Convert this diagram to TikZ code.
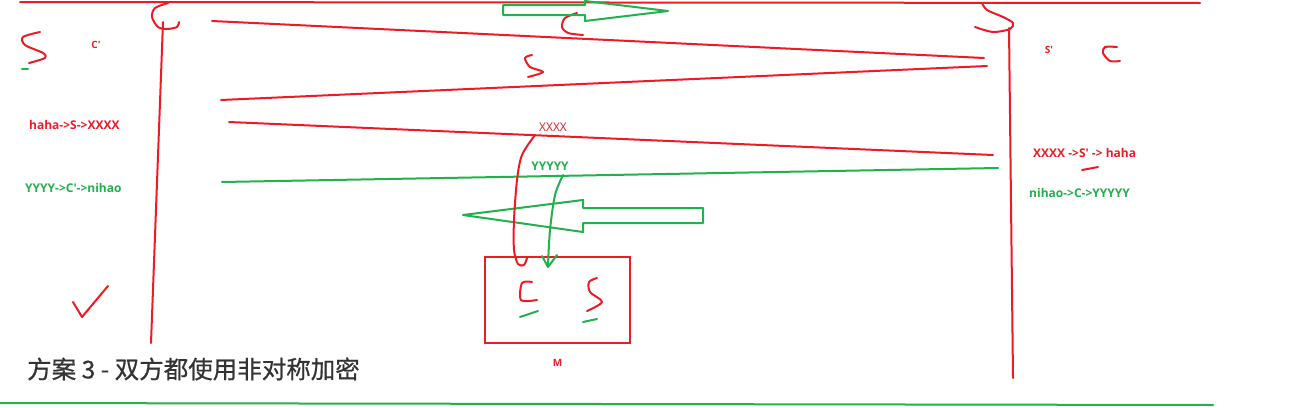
\documentclass[tikz,border=0pt]{standalone}
\usepackage{fontspec}
\setmainfont{Noto Sans CJK SC}
\newfontfamily\lblfont{Open Sans}
\usetikzlibrary{arrows,positioning}

\definecolor{pen}{RGB}{237,28,36}
\definecolor{grn}{RGB}{34,177,76}
\definecolor{ink}{RGB}{51,51,51}

\begin{document}
\begin{tikzpicture}[x=1pt,y=-1pt]
          \tikzstyle{redpen}=[pen,line width=2pt,line cap=round,line join=round]
          \tikzstyle{greenpen}=[grn,line width=2pt,line cap=round,line join=round]
          \tikzstyle{lbl}=[font=\lblfont\bfseries\fontsize{12}{14}\selectfont,inner sep=0pt]
          \tikzstyle{thinlbl}=[font=\lblfont\fontsize{12}{14}\selectfont,inner sep=0pt]
          \useasboundingbox[fill=white] (0,0) rectangle (1305,407);

          \begin{scope}
            % wires and parties
            \draw[redpen] (20,2) -- (1200,3);
            \draw[redpen] (163,22) -- (151,343);
            \draw[redpen] (1009,28) -- (1013,378);
            \draw[redpen] plot[smooth] coordinates {(168,3) (155,8) (152,17) (158,27) (167,29) (177,27) (179,22)};
            \draw[redpen] plot[smooth] coordinates {(982,3) (987,10) (1003,17) (1013,23) (1010,29) (993,32) (975,27)};
            \draw[redpen] plot[smooth] coordinates {(40,32) (23,37) (25,45) (43,53) (45,58) (29,63)};
            \draw[greenpen] (22,69) -- (28,69);
            \draw[redpen] plot[smooth] coordinates {(1117,47) (1105,47) (1103,53) (1110,61) (1120,61)};
            \draw[redpen] plot[smooth] coordinates {(577,13) (565,18) (562,27) (568,33) (583,35)};
            \draw[redpen] plot[smooth] coordinates {(532,55) (525,58) (530,67) (543,72) (528,77)};

            % messages
            \draw[redpen] (212,21) -- (984,58);
            \draw[redpen] (221,100) -- (987,66);
            \draw[redpen] (229,122) -- (993,155);
            \draw[greenpen] (222,182) -- (998,168);

            \draw[greenpen] (503,5) -- (585,5) -- (585,1) -- (668,11) -- (585,21) -- (585,15) -- (503,15) -- cycle;
            \draw[greenpen] (463,215) -- (583,200) -- (583,208) -- (703,208) -- (703,223) -- (583,223) -- (583,232) -- cycle;

            \node[lbl,pen,font=\lblfont\bfseries\fontsize{10}{12}\selectfont](cprime) at (96,45){C'};
            \node[lbl,pen,font=\lblfont\bfseries\fontsize{10}{12}\selectfont](sprime) at (1049,50){S'};
            \node[lbl,pen,anchor=west](lenc) at (29,125){haha->S->XXXX};
            \node[lbl,grn,anchor=west](ldec) at (25,188){YYYY->C'->nihao};
            \node[lbl,pen,anchor=west](rdec) at (1033,153){XXXX ->S' -> haha};
            \node[lbl,grn,anchor=west](renc) at (1029,193){nihao->C->YYYYY};
            \draw[redpen] (1082,170) -- (1098,167);

            % man in the middle
            \node[thinlbl,pen](xxxx) at (553,127){XXXX};
            \node[lbl,grn](yyyy) at (550,166){YYYYY};
            \node[draw=pen,line width=2pt,minimum width=145pt,minimum height=86pt,inner sep=0pt](mbox) at (557.5,300){};
            \node[lbl,pen,font=\lblfont\bfseries\fontsize{10}{12}\selectfont,below=15pt of mbox.south](mid){M};

            \draw[redpen] plot[smooth] coordinates {(535,135) (522,155) (517,180) (514,220) (514,250) (518,264) (524,265) (527,258)};
            \draw[greenpen] plot[smooth] coordinates {(563,175) (555,195) (550,230) (548,265)};
            \draw[greenpen] (542,256) -- (548,267) -- (557,255);

            \draw[redpen] plot[smooth] coordinates {(532,282) (522,283) (521,300) (537,300)};
            \draw[greenpen] (520,317) -- (538,311);
            \draw[redpen] plot[smooth] coordinates {(597,278) (589,282) (590,292) (602,302) (587,311)};
            \draw[greenpen] (583,322) -- (597,319);

            \draw[redpen] (73,302) -- (82,317) -- (108,286);

            \node[ink,anchor=west,inner sep=0pt,font=\addfontfeature{FakeBold=0.6}\fontsize{24.5}{28}\selectfont](title) at (27,369){方案 3 - 双方都使用非对称加密};
            \draw[greenpen] (0,403) -- (1213,405);
          \end{scope}
        \end{tikzpicture}
\end{document}
